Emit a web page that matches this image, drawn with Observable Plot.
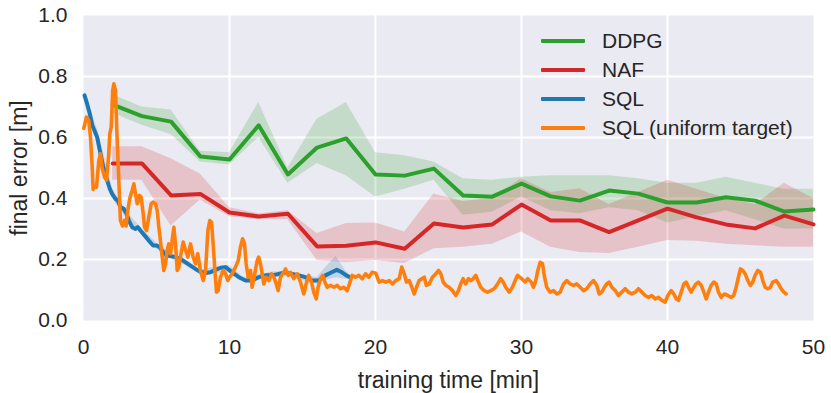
<!DOCTYPE html>
<html>
<head>
<meta charset="utf-8">
<script src="https://cdn.jsdelivr.net/npm/d3@7"></script>
<script src="https://cdn.jsdelivr.net/npm/@observablehq/plot@0.6"></script>
<style>
  html, body { margin: 0; padding: 0; background: #ffffff; }
  #wrap { position: relative; width: 831px; height: 393px; font-family: "Liberation Sans", Arial, sans-serif; }
  #legend { position: absolute; left: 541px; top: 26px; color: #262626; font-size: 21px; }
  .row { display: flex; align-items: center; height: 29px; }
  .sw { width: 44px; height: 4px; margin-right: 17px; border-radius: 1px; }
</style>
</head>
<body>
<div id="wrap"><div id="legend"></div></div>
<script>
// ---- data ----
const seriesNames = ["DDPG", "NAF", "SQL", "SQL (uniform target)"];
const seriesColors = ["#2ca02c", "#d62728", "#1f77b4", "#ff7f0e"];

const xTicks = [0, 10, 20, 30, 40, 50];
const yTicks = [0.0, 0.2, 0.4, 0.6, 0.8, 1.0];
const xGrid = [10, 20, 30, 40];
const yGrid = [0.2, 0.4, 0.6, 0.8];

const evalTimes = [2,4,6,8,10,12,14,16,18,20,22,24,26,28,30,32,34,36,38,40,42,44,46,48,50];

const ddpgMean = [0.708,0.67,0.652,0.538,0.528,0.64,0.479,0.567,0.597,0.479,0.475,0.498,0.41,0.406,0.449,0.407,0.393,0.426,0.416,0.387,0.387,0.404,0.393,0.357,0.364];
const ddpgHi   = [0.74,0.70,0.69,0.555,0.55,0.715,0.50,0.66,0.715,0.55,0.54,0.52,0.465,0.46,0.47,0.475,0.475,0.475,0.465,0.45,0.45,0.47,0.45,0.43,0.43];
const ddpgLo   = [0.68,0.64,0.61,0.52,0.51,0.60,0.45,0.515,0.475,0.405,0.43,0.46,0.345,0.355,0.405,0.36,0.35,0.37,0.36,0.32,0.34,0.36,0.33,0.30,0.30];

const nafMean = [0.515,0.515,0.41,0.415,0.354,0.341,0.35,0.243,0.245,0.256,0.235,0.318,0.305,0.315,0.38,0.328,0.328,0.29,0.328,0.367,0.338,0.315,0.302,0.344,0.315];
const nafHi   = [0.57,0.57,0.53,0.48,0.37,0.35,0.36,0.285,0.318,0.32,0.29,0.415,0.39,0.40,0.465,0.42,0.432,0.38,0.42,0.46,0.43,0.40,0.38,0.45,0.40];
const nafLo   = [0.46,0.46,0.31,0.395,0.34,0.33,0.33,0.197,0.19,0.197,0.187,0.235,0.24,0.25,0.29,0.24,0.223,0.22,0.24,0.262,0.26,0.25,0.245,0.24,0.24];

const sqlT = [0.07,0.25,0.43,0.6,0.75,0.94,1.12,1.28,1.44,1.62,1.8,1.96,2.19,2.35,2.53,2.76,2.95,3.1,3.33,3.56,3.72,3.9,4.18,4.47,4.77,5.0,5.23,5.46,5.68,5.96,6.3,6.64,6.99,7.33,7.67,8.01,8.36,8.7,9.04,9.38,9.73,10.18,10.64,11.1,11.55,12.0,12.47,12.92,13.38,13.84,14.3,14.75,15.2,15.66,16.1,16.57,17.0,17.35,17.7,18.0,18.25];
const sqlV = [0.738,0.71,0.678,0.64,0.623,0.60,0.557,0.519,0.486,0.459,0.432,0.415,0.399,0.393,0.372,0.366,0.35,0.328,0.306,0.30,0.306,0.295,0.279,0.262,0.246,0.246,0.24,0.224,0.213,0.211,0.208,0.202,0.191,0.18,0.169,0.16,0.156,0.158,0.166,0.173,0.175,0.158,0.142,0.131,0.131,0.142,0.148,0.148,0.153,0.158,0.153,0.148,0.142,0.131,0.131,0.148,0.158,0.166,0.158,0.148,0.142];

const sqlBandT  = [0.07,1,2,3,4,5,6,7,8,9,10,11,12,13,14,15,16,16.5,17.3,18,18.25];
const sqlBandLo = [0.72,0.58,0.40,0.33,0.28,0.235,0.20,0.18,0.15,0.155,0.155,0.125,0.135,0.14,0.145,0.13,0.12,0.13,0.14,0.135,0.135];
const sqlBandHi = [0.75,0.62,0.43,0.355,0.30,0.255,0.22,0.195,0.165,0.175,0.18,0.14,0.15,0.16,0.16,0.15,0.14,0.17,0.21,0.16,0.15];

const uniT = [0.02,0.2,0.36,0.48,0.6,0.66,0.82,0.89,1.05,1.16,1.28,1.44,1.58,1.73,1.8,1.9,2.0,2.08,2.19,2.3,2.42,2.53,2.67,2.81,2.92,3.03,3.17,3.33,3.45,3.56,3.68,3.84,3.95,4.09,4.18,4.32,4.47,4.64,4.77,4.93,5.05,5.16,5.27,5.39,5.5,5.62,5.73,5.84,5.96,6.1,6.19,6.3,6.42,6.53,6.64,6.83,6.99,7.15,7.33,7.51,7.67,7.83,8.01,8.2,8.36,8.52,8.65,8.77,8.88,9.0,9.11,9.22,9.38,9.57,9.73,9.88,10.0,10.18,10.41,10.6,10.75,10.9,11.03,11.14,11.28,11.44,11.55,11.73,11.9,12.0,12.12,12.24,12.35,12.51,12.7,12.88,13.04,13.2,13.33,13.49,13.65,13.84,14.02,14.18,14.4,14.64,14.86,15.09,15.25,15.43,15.62,15.77,15.94,16.07,16.23,16.39,16.53,16.69,16.92,17.15,17.38,17.6,17.83,18.06,18.22,18.4,18.63,18.86,19.09,19.32,19.54,19.77,20.02,20.25,20.48,20.71,20.94,21.16,21.39,21.62,21.8,21.97,22.12,22.31,22.49,22.65,22.81,22.99,23.17,23.34,23.49,23.68,23.9,24.13,24.32,24.47,24.64,24.82,25.04,25.27,25.5,25.68,25.84,26.0,26.18,26.37,26.53,26.69,26.87,27.05,27.21,27.44,27.67,27.9,28.13,28.36,28.58,28.75,28.92,29.16,29.38,29.57,29.73,29.88,30.02,30.25,30.43,30.66,30.82,30.98,31.12,31.28,31.44,31.58,31.73,31.96,32.19,32.42,32.65,32.88,33.1,33.33,33.56,33.79,34.02,34.25,34.47,34.7,34.93,35.16,35.32,35.5,35.68,35.84,36.0,36.19,36.42,36.64,36.87,37.1,37.33,37.55,37.79,38.01,38.24,38.47,38.7,38.92,39.16,39.38,39.61,39.84,40.02,40.25,40.43,40.6,40.75,40.94,41.12,41.28,41.44,41.62,41.8,41.96,42.12,42.31,42.49,42.65,42.81,42.99,43.17,43.34,43.49,43.68,43.9,44.13,44.36,44.54,44.7,44.86,45.0,45.16,45.32,45.5,45.68,45.84,46.0,46.18,46.37,46.53,46.69,46.87,47.05,47.21,47.44,47.6,47.79,47.97,48.13];
const uniV = [0.63,0.667,0.656,0.60,0.50,0.43,0.443,0.437,0.525,0.547,0.50,0.47,0.46,0.546,0.612,0.634,0.754,0.776,0.754,0.60,0.46,0.328,0.31,0.328,0.31,0.36,0.40,0.426,0.448,0.415,0.383,0.41,0.404,0.35,0.306,0.295,0.339,0.383,0.388,0.383,0.36,0.306,0.262,0.208,0.164,0.186,0.23,0.251,0.219,0.273,0.306,0.251,0.164,0.175,0.208,0.257,0.23,0.208,0.251,0.208,0.186,0.219,0.164,0.131,0.164,0.295,0.328,0.322,0.251,0.164,0.093,0.098,0.142,0.164,0.153,0.131,0.142,0.153,0.175,0.197,0.24,0.268,0.251,0.186,0.142,0.164,0.109,0.153,0.197,0.208,0.186,0.153,0.12,0.142,0.131,0.153,0.142,0.12,0.098,0.142,0.153,0.169,0.148,0.158,0.137,0.153,0.126,0.087,0.12,0.148,0.126,0.093,0.071,0.109,0.137,0.148,0.126,0.109,0.115,0.109,0.115,0.104,0.109,0.098,0.12,0.148,0.142,0.148,0.137,0.153,0.142,0.158,0.155,0.126,0.131,0.126,0.131,0.12,0.131,0.137,0.175,0.153,0.126,0.131,0.109,0.087,0.109,0.131,0.137,0.142,0.115,0.12,0.142,0.153,0.164,0.153,0.126,0.115,0.109,0.098,0.082,0.098,0.12,0.137,0.12,0.137,0.131,0.137,0.148,0.126,0.109,0.098,0.093,0.098,0.104,0.12,0.137,0.126,0.109,0.093,0.109,0.131,0.148,0.142,0.137,0.126,0.137,0.126,0.109,0.131,0.164,0.191,0.186,0.142,0.109,0.093,0.098,0.087,0.093,0.12,0.131,0.12,0.115,0.12,0.109,0.098,0.104,0.12,0.131,0.115,0.087,0.093,0.109,0.12,0.126,0.109,0.098,0.082,0.093,0.104,0.093,0.087,0.093,0.104,0.093,0.082,0.076,0.082,0.071,0.076,0.066,0.060,0.082,0.098,0.087,0.071,0.066,0.093,0.12,0.126,0.109,0.093,0.109,0.12,0.126,0.115,0.093,0.071,0.093,0.115,0.126,0.12,0.093,0.076,0.087,0.082,0.076,0.082,0.109,0.142,0.169,0.164,0.153,0.131,0.115,0.126,0.148,0.164,0.158,0.131,0.109,0.104,0.109,0.126,0.131,0.12,0.104,0.093,0.087];

const xLabel = "training time [min]";
const yLabel = "final error [m]";

// ---- tables ----
const ddpg = evalTimes.map((t, i) => ({t, m: ddpgMean[i], lo: ddpgLo[i], hi: ddpgHi[i]}));
const naf = evalTimes.map((t, i) => ({t, m: nafMean[i], lo: nafLo[i], hi: nafHi[i]}));
const sql = sqlT.map((t, i) => ({t, v: sqlV[i]}));
const sqlBand = sqlBandT.map((t, i) => ({t, lo: sqlBandLo[i], hi: sqlBandHi[i]}));
const uni = uniT.map((t, i) => ({t, v: uniV[i]}));

const textColor = "#262626";

const chart = Plot.plot({
  width: 831,
  height: 393,
  marginLeft: 83,
  marginRight: 18,
  marginTop: 15,
  marginBottom: 73,
  x: {domain: [0, 50]},
  y: {domain: [0, 1]},
  style: {fontFamily: "'Liberation Sans', Arial, sans-serif", color: textColor, background: "transparent", overflow: "visible"},
  marks: [
    Plot.frame({fill: "#eaeaf2", stroke: null}),
    Plot.gridX(xGrid, {stroke: "#ffffff", strokeOpacity: 1, strokeWidth: 2}),
    Plot.gridY(yGrid, {stroke: "#ffffff", strokeOpacity: 1, strokeWidth: 2}),
    Plot.areaY(ddpg, {x: "t", y1: "lo", y2: "hi", fill: seriesColors[0], fillOpacity: 0.2}),
    Plot.areaY(naf, {x: "t", y1: "lo", y2: "hi", fill: seriesColors[1], fillOpacity: 0.2}),
    Plot.areaY(sqlBand, {x: "t", y1: "lo", y2: "hi", fill: seriesColors[2], fillOpacity: 0.2}),
    Plot.lineY(ddpg, {x: "t", y: "m", stroke: seriesColors[0], strokeWidth: 4}),
    Plot.lineY(naf, {x: "t", y: "m", stroke: seriesColors[1], strokeWidth: 4}),
    Plot.lineY(sql, {x: "t", y: "v", stroke: seriesColors[2], strokeWidth: 4}),
    Plot.lineY(uni, {x: "t", y: "v", stroke: seriesColors[3], strokeWidth: 3.6}),
    Plot.axisX({ticks: xTicks, tickSize: 0, tickPadding: 19, fontSize: 21, label: null, tickFormat: d3.format("d")}),
    Plot.axisY({ticks: yTicks, tickSize: 0, tickPadding: 16, fontSize: 21, label: null, tickFormat: d3.format(".1f")}),
    Plot.text([xLabel], {text: d => d, frameAnchor: "bottom", dy: 67, fontSize: 23, lineAnchor: "bottom", fill: textColor}),
    Plot.text([yLabel], {text: d => d, frameAnchor: "left", dx: -64, rotate: -90, fontSize: 23, lineAnchor: "middle", textAnchor: "middle", fill: textColor})
  ]
});

document.getElementById("wrap").prepend(chart);

const legend = document.getElementById("legend");
seriesNames.forEach((name, i) => {
  const row = document.createElement("div");
  row.className = "row";
  const sw = document.createElement("div");
  sw.className = "sw";
  sw.style.background = seriesColors[i];
  const lab = document.createElement("span");
  lab.textContent = name;
  row.appendChild(sw);
  row.appendChild(lab);
  legend.appendChild(row);
});
</script>
</body>
</html>
